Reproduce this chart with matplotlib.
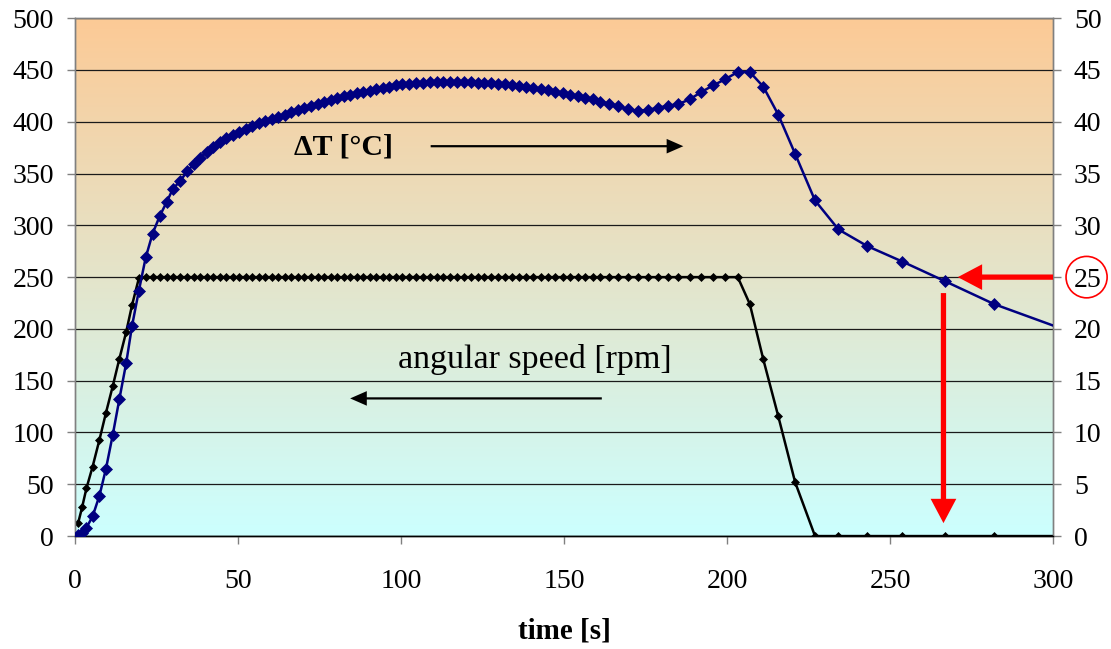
import numpy as np
import matplotlib
matplotlib.use("Agg")
import matplotlib.pyplot as plt
from matplotlib.patches import Ellipse

plt.rcParams['font.family'] = ['Liberation Serif', 'DejaVu Serif']

# ---------------- data ----------------
time_s = [
    1.0, 2.2, 3.5, 5.4, 7.5, 9.5, 11.6, 13.6, 15.7, 17.5, 19.6, 21.7, 23.8, 26.0, 28.2, 30.0, 32.3, 34.4,
    36.4, 38.4, 40.4, 42.4, 44.4, 46.4, 48.4, 50.4, 52.4, 54.4, 56.4, 58.4, 60.4, 62.4, 64.4, 66.4,
    68.4, 70.4, 72.4, 74.4, 76.4, 78.4, 80.4, 82.4, 84.4, 86.4, 88.4, 90.4, 92.4, 94.4, 96.4, 98.4, 100.4,
    102.5, 104.6, 106.7, 108.8, 110.9, 113.0, 115.1, 117.2, 119.3, 121.4, 123.5, 125.6, 127.7, 129.8, 131.9, 134.0,
    136.2, 138.4, 140.6, 142.8, 145.0, 147.3, 149.6, 151.9, 154.2, 156.5, 158.8, 161.1, 163.8, 166.6, 169.6,
    172.7, 175.8, 178.9, 181.9, 185.0, 188.5, 192.0, 195.7, 199.4, 203.3,
    207.0, 211.1, 215.7, 220.9, 227.0, 234.2, 243.0, 253.8, 266.9, 281.9, 302.0,
]

speed_rpm = [
    13, 28, 46, 67, 93, 119, 145, 171, 197, 223, 249, 250, 250, 250, 250, 250, 250, 250,
    250, 250, 250, 250, 250, 250, 250, 250, 250, 250, 250, 250, 250, 250, 250, 250,
    250, 250, 250, 250, 250, 250, 250, 250, 250, 250, 250, 250, 250, 250, 250, 250, 250,
    250, 250, 250, 250, 250, 250, 250, 250, 250, 250, 250, 250, 250, 250, 250, 250,
    250, 250, 250, 250, 250, 250, 250, 250, 250, 250, 250, 250, 250, 250, 250,
    250, 250, 250, 250, 250, 250, 250, 250, 250, 250,
    224, 171, 116, 52, 0, 0, 0, 0, 0, 0, 0,
]

delta_T = [
    0.1, 0.3, 0.8, 1.9, 3.9, 6.5, 9.8, 13.2, 16.7, 20.3, 23.7, 26.9, 29.2, 30.9, 32.3, 33.5, 34.3, 35.2,
    35.9, 36.5, 37.1, 37.6, 38.0, 38.4, 38.7, 39.0, 39.3, 39.6, 39.9, 40.1, 40.3, 40.5, 40.7, 40.9,
    41.1, 41.3, 41.5, 41.7, 41.9, 42.1, 42.3, 42.5, 42.6, 42.8, 42.9, 43.0, 43.2, 43.3, 43.4, 43.5, 43.6,
    43.65, 43.7, 43.75, 43.8, 43.82, 43.85, 43.85, 43.85, 43.83, 43.8, 43.78, 43.75, 43.7, 43.65, 43.6, 43.52,
    43.45, 43.35, 43.25, 43.15, 43.05, 42.9, 42.75, 42.6, 42.45, 42.3, 42.15, 41.95, 41.75, 41.5, 41.2,
    41.05, 41.15, 41.35, 41.55, 41.7, 42.15, 42.85, 43.5, 44.1, 44.8,
    44.8, 43.4, 40.7, 36.9, 32.4, 29.6, 28.0, 26.5, 24.6, 22.4, 20.1,
]

x_ticks = [0, 50, 100, 150, 200, 250, 300]
left_ticks = [0, 50, 100, 150, 200, 250, 300, 350, 400, 450, 500]
right_ticks = [0, 5, 10, 15, 20, 25, 30, 35, 40, 45, 50]

# ---------------- figure ----------------
fig = plt.figure(figsize=(11.11, 6.49), dpi=100)
ax = fig.add_axes([0.0675, 0.174, 0.8803, 0.798])
ax2 = ax.twinx()

# background gradient (peach at top -> light cyan at bottom)
top_c = np.array([252, 202, 150]) / 255.0
bot_c = np.array([204, 255, 255]) / 255.0
frac = np.linspace(0, 1, 256)[:, None]
grad = (top_c * (1 - frac) + bot_c * frac)[:, None, :]
ax.imshow(grad, extent=[0, 1, 0, 1], transform=ax.transAxes, aspect='auto',
          zorder=0, interpolation='bilinear')

ax.plot(time_s, speed_rpm, color='black', lw=1.8, marker='D', ms=4.2,
        markeredgewidth=0.5, zorder=3)
ax2.plot(time_s, delta_T, color='#000080', lw=1.8, marker='D', ms=6.0,
         markeredgewidth=0.5, zorder=3)

ax.set_xlim(0, 300)
ax.set_ylim(0, 500)
ax2.set_ylim(0, 50)
ax.set_xticks(x_ticks)
ax.set_yticks(left_ticks)
ax2.set_yticks(right_ticks)

ax.yaxis.grid(True, color='#1a1a1a', lw=0.9, zorder=1)
ax.set_axisbelow(False)

for a in (ax, ax2):
    for s in ('left', 'right', 'top'):
        a.spines[s].set_color('#808080')
        a.spines[s].set_linewidth(1.0)
    a.spines['bottom'].set_color('black')
    a.spines['bottom'].set_linewidth(1.0)

ax.tick_params(axis='y', direction='out', length=6, width=1, color='#808080',
               labelsize=20, pad=9)
ax.tick_params(axis='x', direction='out', length=6, width=1, color='#808080',
               labelsize=20, pad=18)
ax2.tick_params(axis='y', direction='out', length=6, width=1, color='#808080',
                labelsize=20, pad=9)

ax.set_xlabel('time [s]', fontsize=21, fontweight='bold')
ax.xaxis.label.set_va('center')
ax.xaxis.set_label_coords(0.5, -0.183)

# ---------------- annotations ----------------
ax.text(67.2, 376, '\u0394T [\u00b0C]', fontsize=21.5, fontweight='bold',
        ha='left', va='center', zorder=5)
ax.text(99.2, 162, 'angular speed [rpm]', fontsize=24.5, ha='left',
        va='baseline', zorder=5)

black_arrow = dict(width=1.6, headwidth=10.5, headlength=12, shrink=0,
                   facecolor='black', edgecolor='none')
ax.annotate('', xy=(186.6, 376.4), xytext=(109.1, 376.4), arrowprops=black_arrow, zorder=5)
ax.annotate('', xy=(84.4, 132.9), xytext=(161.6, 132.9), arrowprops=black_arrow, zorder=5)

red_arrow = dict(width=3.8, headwidth=18.5, headlength=17.5, shrink=0,
                 facecolor='#ff0000', edgecolor='none')
ax2.annotate('', xy=(270.8, 25), xytext=(300, 25), arrowprops=red_arrow,
             annotation_clip=False, zorder=6)
ax2.annotate('', xy=(266.4, 1.25), xytext=(266.4, 23.46), arrowprops=red_arrow,
             annotation_clip=False, zorder=6)
ax2.add_patch(Ellipse((310.3, 25), width=12.6, height=4.0, fill=False,
                      edgecolor='#ff0000', lw=1.2, clip_on=False, zorder=6))

fig.savefig('out.png', dpi=100)
